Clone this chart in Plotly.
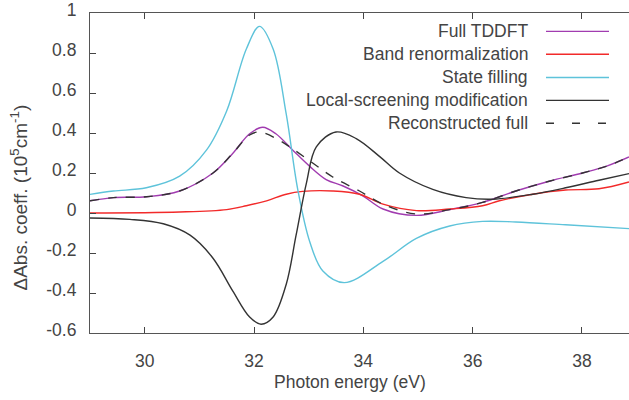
import plotly.graph_objects as go

# ---- data ----
sf_x = [29.0, 29.43, 30.03, 30.64, 31.13, 31.5, 31.86, 32.1, 32.35, 32.59, 32.8, 33.02, 33.26, 33.65, 34.36, 34.97, 35.58, 36.18, 36.79, 37.7, 38.86]
sf_y = [0.093, 0.11, 0.126, 0.184, 0.314, 0.51, 0.82, 0.933, 0.82, 0.494, 0.118, -0.144, -0.29, -0.348, -0.242, -0.127, -0.065, -0.042, -0.045, -0.059, -0.078]

full_x = [29.0, 29.43, 30.03, 30.64, 31.25, 31.61, 31.92, 32.16, 32.4, 32.71, 33.02, 33.32, 33.63, 33.99, 34.36, 34.97, 35.58, 36.18, 36.79, 37.4, 38.01, 38.44, 38.86]
full_y = [0.061, 0.077, 0.081, 0.11, 0.2, 0.298, 0.396, 0.429, 0.396, 0.314, 0.233, 0.167, 0.135, 0.086, 0.02, -0.012, 0.017, 0.053, 0.11, 0.159, 0.2, 0.233, 0.28]

band_x = [29.0, 30.64, 31.5, 31.86, 32.23, 32.59, 32.89, 33.44, 33.93, 34.36, 34.97, 35.58, 36.18, 36.49, 37.1, 37.7, 38.31, 38.86]
band_y = [0.0, 0.005, 0.017, 0.036, 0.061, 0.094, 0.108, 0.11, 0.094, 0.044, 0.012, 0.02, 0.036, 0.061, 0.094, 0.115, 0.121, 0.155]

loc_x = [29.0, 29.73, 30.34, 30.83, 31.25, 31.61, 31.92, 32.13, 32.35, 32.59, 32.77, 32.96, 33.14, 33.5, 33.87, 34.3, 34.66, 35.27, 35.88, 36.37, 37.1, 37.7, 38.31, 38.86]
loc_y = [-0.025, -0.032, -0.054, -0.111, -0.226, -0.389, -0.52, -0.556, -0.52, -0.356, -0.111, 0.151, 0.331, 0.405, 0.372, 0.282, 0.2, 0.118, 0.077, 0.069, 0.094, 0.126, 0.164, 0.197]

rec_x = [29.0, 29.43, 30.03, 30.64, 31.25, 31.61, 31.92, 32.1, 32.46, 32.71, 33.08, 33.44, 33.93, 34.36, 34.97, 35.58, 36.18, 36.79, 37.4, 38.01, 38.44, 38.86]
rec_y = [0.061, 0.077, 0.081, 0.11, 0.2, 0.298, 0.39, 0.405, 0.364, 0.32, 0.249, 0.18, 0.11, 0.044, -0.005, 0.017, 0.053, 0.11, 0.159, 0.2, 0.233, 0.28]

x_ticks = [30, 32, 34, 36, 38]
y_ticks = [-0.6, -0.4, -0.2, 0, 0.2, 0.4, 0.6, 0.8, 1]
y_tick_labels = ["-0.6", "-0.4", "-0.2", "0", "0.2", "0.4", "0.6", "0.8", "1"]

series = [
    ("Full TDDFT", full_x, full_y, "#a13cb0", "solid"),
    ("Band renormalization", band_x, band_y, "#f22a2a", "solid"),
    ("State filling", sf_x, sf_y, "#5ec3da", "solid"),
    ("Local-screening modification", loc_x, loc_y, "#333333", "solid"),
    ("Reconstructed full", rec_x, rec_y, "#333333", "9px,9px"),
]

W, H = 629, 400
L, R, T, B = 90, 0, 7, 67
pw, ph = W - L - R, H - T - B

fig = go.Figure()
for name, xs, ys, col, dash in series:
    fig.add_trace(go.Scatter(x=xs, y=ys, mode="lines", name=name,
                             line=dict(color=col, width=1.4, dash=dash, shape="spline", smoothing=1.0),
                             showlegend=False, hoverinfo="skip"))

font_family = "Liberation Sans, Arial, sans-serif"
txt_col = "#444444"
FS = 17.5

# custom legend (text right, sample line on right)
leg_rows = [25.7, 49.0, 72.7, 96.0, 119.3]
shapes = []
annotations = []
for (name, xs, ys, col, dash), py in zip(series, leg_rows):
    yp = (H - B - py) / ph
    annotations.append(dict(x=(530 - L) / pw, y=yp, xref="paper", yref="paper",
                            text=name, showarrow=False, xanchor="right", yanchor="middle",
                            font=dict(size=FS, color=txt_col, family=font_family)))
    shapes.append(dict(type="line", xref="paper", yref="paper",
                       x0=(546 - L) / pw, x1=(609 - L) / pw, y0=yp, y1=yp,
                       line=dict(color=col, width=1.4, dash=("8px,18px" if dash != "solid" else "solid"))))

# y-axis title
annotations.append(dict(x=(19 - L) / pw, y=(H - B - 195) / ph, xref="paper", yref="paper",
                        text="ΔAbs. coeff. (10<sup>5</sup>cm<sup>-1</sup>)", showarrow=False,
                        textangle=-90, xanchor="center", yanchor="middle",
                        font=dict(size=19, color=txt_col, family=font_family)))
# x-axis title
annotations.append(dict(x=(350 - L) / pw, y=(H - B - 383) / ph, xref="paper", yref="paper",
                        text="Photon energy (eV)", showarrow=False,
                        xanchor="center", yanchor="middle",
                        font=dict(size=FS, color=txt_col, family=font_family)))

fig.update_layout(
    width=W, height=H,
    margin=dict(l=L, r=R, t=T, b=B, pad=0),
    paper_bgcolor="white", plot_bgcolor="white",
    font=dict(family=font_family, size=FS, color=txt_col),
    shapes=shapes, annotations=annotations,
    showlegend=False,
)
fig.update_xaxes(range=[29, 38.86], tickvals=x_ticks, ticks="inside", ticklen=6,
                 tickcolor="#444", showline=True, linecolor="#555", linewidth=1.2,
                 mirror="ticks", showgrid=False, zeroline=False,
                 ticklabelstandoff=12)
fig.update_yaxes(range=[-0.6, 1], tickvals=y_ticks, ticktext=y_tick_labels, ticks="inside", ticklen=6,
                 tickcolor="#444", showline=True, linecolor="#555", linewidth=1.2,
                 showgrid=False, zeroline=False, ticklabelstandoff=9,
                 ticklabeloverflow="allow", ticklabelshift=-3)

fig.write_html("out.html")
